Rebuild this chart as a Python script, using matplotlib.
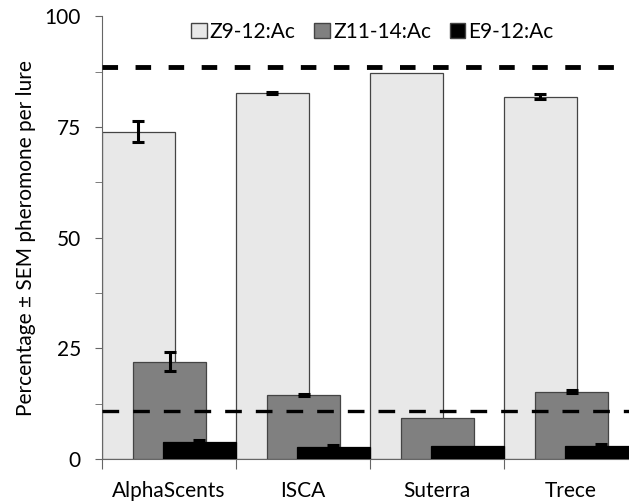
import numpy as np
import matplotlib.pyplot as plt
from matplotlib.patches import Patch

# -------------------- Datos --------------------
lures = ["AlphaScents", "ISCA", "Suterra", "Trece"]
series = ["Z9-12:Ac", "Z11-14:Ac", "E9-12:Ac"]
z9 = [74.0, 82.7, 87.3, 81.9]
z9_sem = [2.4, 0.3, 0.0, 0.5]
z11 = [22.0, 14.5, 9.3, 15.2]
z11_sem = [2.2, 0.2, 0.0, 0.3]
e9 = [3.9, 2.8, 3.0, 3.0]
e9_sem = [0.5, 0.3, 0.0, 0.5]
ref_high = 88.6
ref_low = 10.9

colores = ["#e8e8e8", "#808080", "#000000"]
bordes = ["#444444", "#444444", "#000000"]
offsets = [0.0, 0.235, 0.455]
ancho = 0.545

plt.rcParams['font.family'] = ['Lato', 'DejaVu Sans']

fig = plt.figure(figsize=(6.29, 5.04), dpi=100)
ax = fig.add_axes([0.1617, 0.0893, 0.852, 0.878])

x = np.arange(len(lures))
valores = [z9, z11, e9]
errores = [z9_sem, z11_sem, e9_sem]
for k in range(3):
    ax.bar(x + offsets[k], valores[k], width=ancho, align='edge',
           color=colores[k], edgecolor=bordes[k], linewidth=0.9, zorder=2 + k)
    centros = x + offsets[k] + ancho / 2
    for c, v, e in zip(centros, valores[k], errores[k]):
        if e > 0:
            ax.errorbar(c, v, yerr=e, fmt='none', ecolor='black',
                        elinewidth=2.2, capsize=4, capthick=2.2, zorder=6)

# lineas de referencia
ax.axhline(ref_high, color='black', linewidth=3.5, dashes=(3.2, 3.6), zorder=7)
ax.axhline(ref_low, color='black', linewidth=2.4, dashes=(5.0, 4.2), zorder=7)

ax.set_xlim(0, 4)
ax.set_ylim(0, 100)
ax.set_yticks([0, 25, 50, 75, 100])
ax.set_yticks(np.arange(12.5, 100, 25), minor=True)
ax.set_xticks(np.arange(0, 5))
ax.set_xticklabels([])
ax.set_xticks(x + 0.5, minor=True)
ax.set_xticklabels(lures, minor=True, fontsize=15)
ax.tick_params(axis='x', which='minor', length=0, pad=16)
ax.tick_params(axis='x', which='major', length=7, color='#666666')
ax.tick_params(axis='y', which='both', length=5, color='#666666', labelsize=15, pad=10)

for s in ['top', 'right']:
    ax.spines[s].set_visible(False)
for s in ['left', 'bottom']:
    ax.spines[s].set_color('#666666')

ax.set_ylabel("Percentage ± SEM pheromone per lure", fontsize=15, labelpad=6)

handles = [Patch(facecolor=colores[k], edgecolor='#444444', label=series[k])
           for k in range(3)]
ax.legend(handles=handles, loc='upper center', bbox_to_anchor=(0.505, 1.03),
          ncol=3, frameon=False, fontsize=15, handlelength=0.75, handleheight=0.75,
          handletextpad=0.15, columnspacing=0.9)

fig.savefig("out.png", dpi=100)
